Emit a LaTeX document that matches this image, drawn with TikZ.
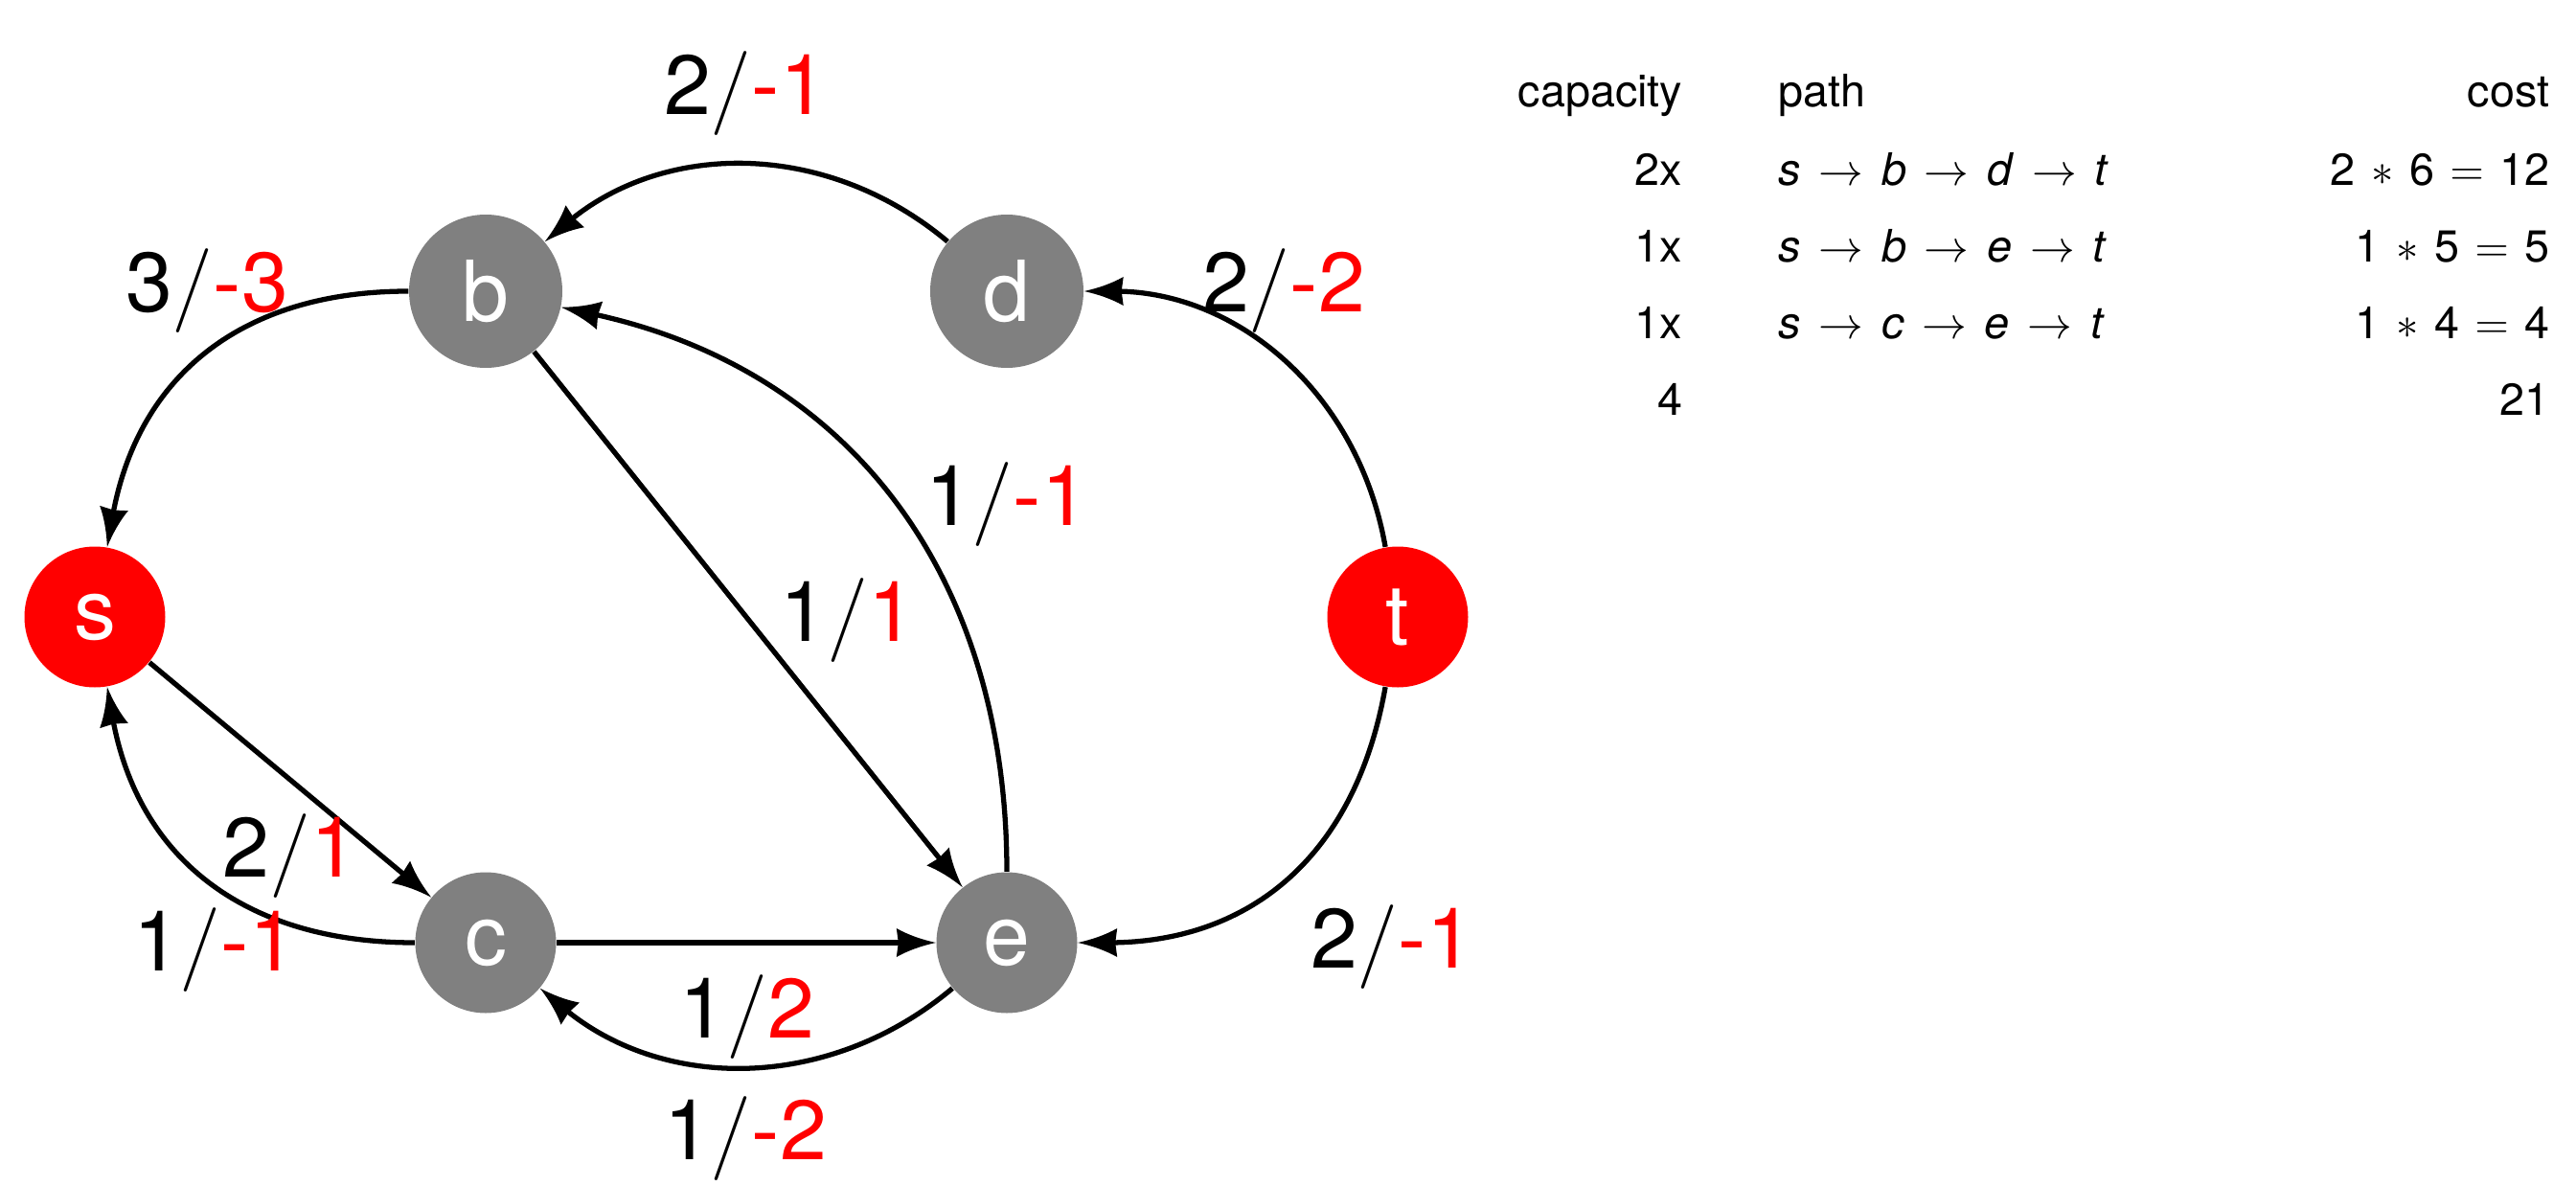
\RequirePackage{fix-cm}
\documentclass[tikz,border=0pt]{standalone}
\usepackage[no-math]{fontspec}
\setmainfont{TeX Gyre Heros}
\usetikzlibrary{arrows.meta}
\definecolor{nodegray}{RGB}{128,128,128}
\definecolor{nodered}{RGB}{255,0,0}
\newcommand{\flowlab}[2]{#1$/$\textcolor{nodered}{#2}}
\newcommand{\tarrow}{\hspace{0.4em}$\rightarrow$\hspace{0.4em}}
\newcommand{\opsp}{\hspace{0.35em}}
\pgfdeclarearrow{
  name = KiteTip,
  setup code = {
    \pgfarrowssettipend{0pt}
    \pgfarrowssetlineend{-9pt}
    \pgfarrowssetvisualbackend{-11pt}
    \pgfarrowssetbackend{-11.67pt}
    \pgfarrowshullpoint{0pt}{0pt}
    \pgfarrowshullpoint{-11.67pt}{4.27pt}
    \pgfarrowshullpoint{-11.67pt}{-4.27pt}
  },
  drawing code = {
    \pgfpathmoveto{\pgfqpoint{0pt}{0pt}}
    \pgfpathcurveto{\pgfqpoint{-4pt}{0.9pt}}{\pgfqpoint{-8pt}{2.2pt}}{\pgfqpoint{-11.67pt}{4.27pt}}
    \pgfpathlineto{\pgfqpoint{-11.1pt}{0pt}}
    \pgfpathlineto{\pgfqpoint{-11.67pt}{-4.27pt}}
    \pgfpathcurveto{\pgfqpoint{-8pt}{-2.2pt}}{\pgfqpoint{-4pt}{-0.9pt}}{\pgfqpoint{0pt}{0pt}}
    \pgfpathclose
    \pgfusepathqfill
  }
}
\begin{document}
\begin{tikzpicture}[
  x=1cm,y=1cm,
  vtx/.style={circle, fill=nodegray, text=white, inner sep=0pt, minimum size=1.47cm, font=\fontsize{25}{30}\selectfont},
  tall/.style={minimum size=1.60cm},
  term/.style={fill=nodered},
  arr/.style={line width=1.5pt, -{KiteTip}},
  elabel/.style={inner sep=0pt, anchor=base, font=\fontsize{25}{30}\selectfont},
  cell/.style={inner sep=0pt, font=\fontsize{13.3}{16}\selectfont},
]
\useasboundingbox (0,0) rectangle (26.89,12.37);
% vertices
\node[vtx,term] (s) at (0.99,5.93) {s};
\node[vtx,tall] (b) at (5.07,9.33) {b};
\node[vtx,tall] (d) at (10.51,9.33) {d};
\node[vtx,term] (t) at (14.59,5.93) {t};
\node[vtx] (c) at (5.07,2.53) {c};
\node[vtx] (e) at (10.51,2.53) {e};
% edges
\draw[arr] (d) to[out=140,in=40] (b);
\draw[arr] (b) to[out=180,in=80,looseness=1.1] (s);
\draw[arr] (s) -- (c);
\draw[arr] (c) to[out=180,in=-80,looseness=1.1] (s);
\draw[arr] (c) -- (e);
\draw[arr] (e) to[out=-140,in=-40] (c);
\draw[arr] (b) -- (e);
\draw[arr] (e) to[out=90,in=-12,looseness=1.05] (b);
\draw[arr] (t) to[out=100,in=0] (d);
\draw[arr] (t) to[out=-100,in=0,looseness=1.1] (e);
% edge labels
\node[elabel] (ldb) at (7.78,11.18) {\flowlab{2}{-1}};
\node[elabel] (lbs) at (2.16,9.12) {\flowlab{3}{-3}};
\node[elabel] (lsc) at (3.03,3.22) {\flowlab{2}{1}};
\node[elabel] (lcs) at (2.24,2.24) {\flowlab{1}{-1}};
\node[elabel] (lce) at (7.80,1.54) {\flowlab{1}{2}};
\node[elabel] (lec) at (7.78,0.27) {\flowlab{1}{-2}};
\node[elabel] (lbe) at (8.85,5.68) {\flowlab{1}{1}};
\node[elabel] (leb) at (10.51,6.89) {\flowlab{1}{-1}};
\node[elabel] (ltd) at (13.40,9.12) {\flowlab{2}{-2}};
\node[elabel] (lte) at (14.53,2.27) {\flowlab{2}{-1}};
% table
\node[cell,anchor=base east] (h1) at (17.57,11.25) {capacity};
\node[cell,anchor=base west] (h2) at (18.56,11.25) {path};
\node[cell,anchor=base east] (h3) at (26.62,11.25) {cost};
\node[cell,anchor=base east] (r1a) at (17.57,10.44) {2x};
\node[cell,anchor=base west] (r1b) at (18.56,10.44) {\textit{s}\tarrow\textit{b}\tarrow\textit{d}\tarrow\textit{t}};
\node[cell,anchor=base east] (r1c) at (26.62,10.44) {2\opsp$\ast$\opsp6\opsp$=$\opsp12};
\node[cell,anchor=base east] (r2a) at (17.57,9.64) {1x};
\node[cell,anchor=base west] (r2b) at (18.56,9.64) {\textit{s}\tarrow\textit{b}\tarrow\textit{e}\tarrow\textit{t}};
\node[cell,anchor=base east] (r2c) at (26.62,9.64) {1\opsp$\ast$\opsp5\opsp$=$\opsp5};
\node[cell,anchor=base east] (r3a) at (17.57,8.84) {1x};
\node[cell,anchor=base west] (r3b) at (18.56,8.84) {\textit{s}\tarrow\textit{c}\tarrow\textit{e}\tarrow\textit{t}};
\node[cell,anchor=base east] (r3c) at (26.62,8.84) {1\opsp$\ast$\opsp4\opsp$=$\opsp4};
\node[cell,anchor=base east] (r4a) at (17.57,8.04) {4};
\node[cell,anchor=base east] (r4c) at (26.62,8.04) {21};
\end{tikzpicture}
\end{document}
